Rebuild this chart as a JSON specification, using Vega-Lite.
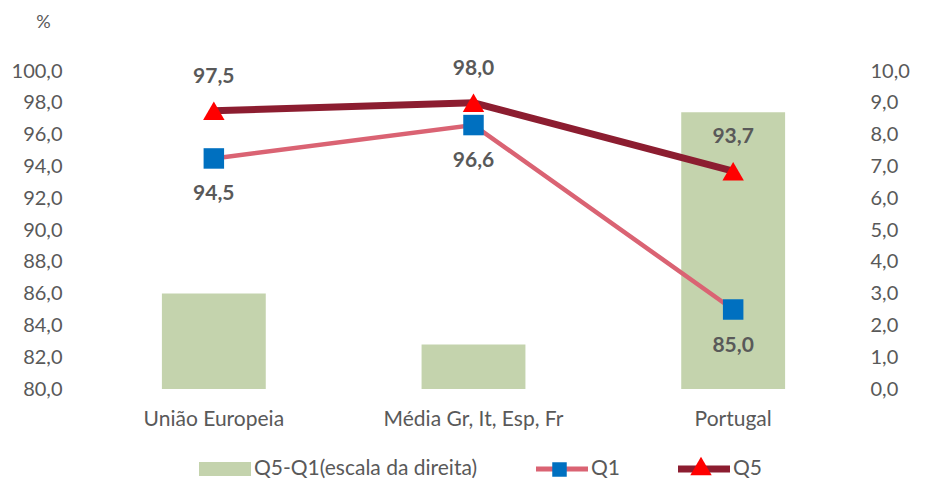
{
  "$schema": "https://vega.github.io/schema/vega-lite/v6.json",
  "width": 779,
  "height": 318,
  "autosize": {"type": "none"},
  "padding": {"left": 84, "top": 71, "right": 67, "bottom": 91},
  "background": "white",
  "config": {
    "locale": {"number": {"decimal": ",", "thousands": ".", "grouping": [3], "currency": ["", " €"]}},
    "font": "Lato",
    "view": {"stroke": null},
    "axis": {"labelFont": "Lato", "labelFontSize": 20, "labelColor": "#595959", "domain": false, "ticks": false, "tickSize": 0, "gridColor": "#D9D9D9", "gridWidth": 1.5}
  },
  "data": {
    "values": [
      {"regiao": "União Europeia", "serie": "Q5-Q1(escala da direita)", "valor": 3.0},
      {"regiao": "Média Gr, It, Esp, Fr", "serie": "Q5-Q1(escala da direita)", "valor": 1.4},
      {"regiao": "Portugal", "serie": "Q5-Q1(escala da direita)", "valor": 8.7},
      {"regiao": "União Europeia", "serie": "Q1", "valor": 94.5},
      {"regiao": "Média Gr, It, Esp, Fr", "serie": "Q1", "valor": 96.6},
      {"regiao": "Portugal", "serie": "Q1", "valor": 85.0},
      {"regiao": "União Europeia", "serie": "Q5", "valor": 97.5},
      {"regiao": "Média Gr, It, Esp, Fr", "serie": "Q5", "valor": 98.0},
      {"regiao": "Portugal", "serie": "Q5", "valor": 93.7}
    ]
  },
  "encoding": {
    "x": {
      "field": "regiao", "type": "nominal", "sort": null,
      "scale": {"paddingInner": 0.6, "paddingOuter": 0.3},
      "axis": {"title": null, "labelAngle": 0, "labelPadding": 19, "labelFontSize": 21, "grid": false}
    }
  },
  "layer": [
    {
      "transform": [{"filter": "datum.serie === 'Q5-Q1(escala da direita)'"}],
      "mark": {"type": "bar"},
      "encoding": {
        "y": {
          "field": "valor", "type": "quantitative",
          "scale": {"domain": [0, 10]},
          "axis": {"orient": "right", "title": null, "grid": false, "values": [0, 1, 2, 3, 4, 5, 6, 7, 8, 9, 10], "format": ".1f", "labelPadding": 7}
        },
        "color": {
          "field": "serie", "type": "nominal",
          "scale": {"domain": ["Q5-Q1(escala da direita)", "Q1", "Q5"], "range": ["#C4D3AD", "#DA6373", "#8C1D30"]},
          "legend": {
            "orient": "none", "legendX": 115, "legendY": 372, "direction": "horizontal", "title": null,
            "labelFont": "Lato", "labelFontSize": 21, "labelColor": "#595959", "labelLimit": 400,
            "symbolSize": 2704, "symbolStrokeWidth": 0, "symbolOpacity": 1, "columnPadding": 58, "labelOffset": 3
          }
        }
      }
    },
    {
      "encoding": {
        "y": {
          "field": "valor", "type": "quantitative",
          "scale": {"domain": [80, 100]},
          "axis": {
            "orient": "left", "values": [80, 82, 84, 86, 88, 90, 92, 94, 96, 98, 100], "format": ".1f", "labelPadding": 22,
            "title": "%", "titleAngle": 0, "titleX": -41, "titleY": -49, "titleAlign": "center", "titleBaseline": "middle",
            "titleFontWeight": "normal", "titleFontSize": 18, "titleColor": "#595959", "titleFont": "Lato"
          }
        }
      },
      "layer": [
        {
          "transform": [{"filter": "datum.serie === 'Q1'"}],
          "mark": {"type": "line", "strokeWidth": 4.5},
          "encoding": {"color": {"field": "serie", "type": "nominal"}}
        },
        {
          "transform": [{"filter": "datum.serie === 'Q5'"}],
          "mark": {"type": "line", "strokeWidth": 7},
          "encoding": {"color": {"field": "serie", "type": "nominal"}}
        },
        {
          "transform": [{"filter": "false"}],
          "mark": {"type": "point", "filled": true, "opacity": 1},
          "encoding": {
            "color": {"field": "serie", "type": "nominal"},
            "shape": {
              "field": "serie", "type": "nominal",
              "scale": {"domain": ["Q5-Q1(escala da direita)", "Q1", "Q5"], "range": ["M-1,-0.27H1V0.27H-1Z", "M-1,-0.095H1V0.095H-1Z", "M-1,-0.135H1V0.135H-1Z"]}
            }
          }
        },
        {
          "transform": [{"filter": "datum.serie === 'Q1'"}],
          "mark": {"type": "point", "filled": true, "color": "#0070C0", "shape": "square", "size": 420},
          "encoding": {
            "opacity": {
              "field": "serie", "type": "nominal",
              "scale": {"domain": ["Q1"], "range": [1]},
              "legend": {
                "orient": "none", "legendX": 468, "legendY": 391, "title": null,
                "labelExpr": "''", "labelFontSize": 1, "symbolSize": 210, "symbolStrokeWidth": 0, "symbolFillColor": "#0070C0"
              }
            }
          }
        },
        {
          "transform": [{"filter": "datum.serie === 'Q5'"}],
          "mark": {"type": "point", "filled": true, "opacity": 1, "color": "#FF0000", "shape": "triangle-up"},
          "encoding": {
            "size": {
              "field": "serie", "type": "ordinal",
              "scale": {"type": "point", "domain": ["Q5"], "range": [460, 460]},
              "legend": {
                "orient": "none", "legendX": 606, "legendY": 384, "title": null,
                "labelExpr": "''", "labelFontSize": 1, "symbolStrokeWidth": 0, "symbolFillColor": "#FF0000", "symbolType": "triangle-up", "symbolOpacity": 1
              }
            }
          }
        },
        {
          "transform": [{"filter": "datum.serie === 'Q5'"}],
          "mark": {"type": "text", "dy": -34, "font": "Lato", "fontSize": 21, "fontWeight": "bold", "color": "#595959"},
          "encoding": {"text": {"field": "valor", "type": "quantitative", "format": ".1f"}}
        },
        {
          "transform": [{"filter": "datum.serie === 'Q1'"}],
          "mark": {"type": "text", "dy": 36, "font": "Lato", "fontSize": 21, "fontWeight": "bold", "color": "#595959"},
          "encoding": {"text": {"field": "valor", "type": "quantitative", "format": ".1f"}}
        }
      ]
    }
  ],
  "resolve": {"scale": {"y": "independent"}}
}
